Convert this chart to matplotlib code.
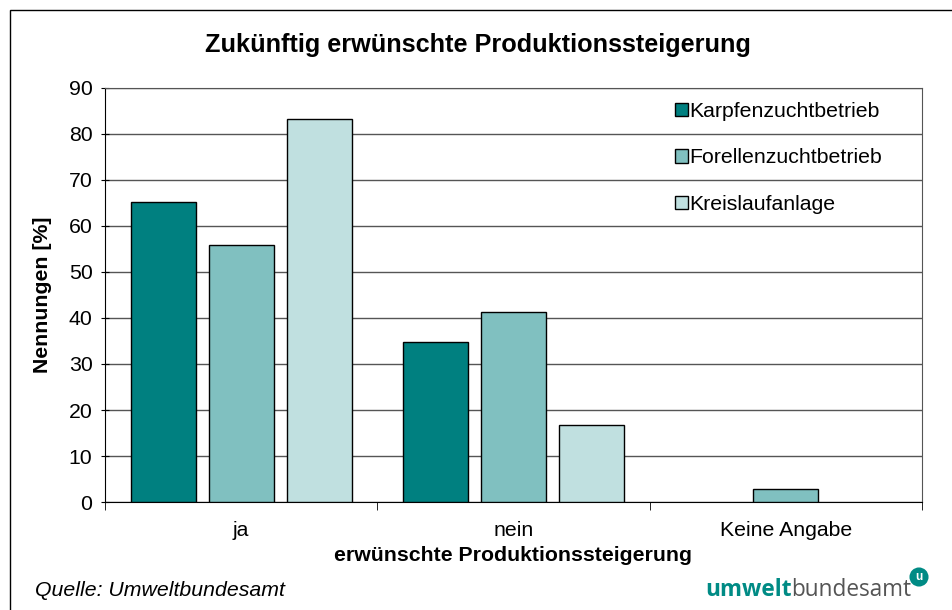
import matplotlib.pyplot as plt
import matplotlib.patches as mpatches
import numpy as np

plt.rcParams['font.family'] = ['Liberation Sans', 'DejaVu Sans']

categories = ['ja', 'nein', 'Keine Angabe']
series = ['Karpfenzuchtbetrieb', 'Forellenzuchtbetrieb', 'Kreislaufanlage']
karpfen = [65.2, 34.8, 0.0]
forellen = [55.8, 41.2, 2.8]
kreislauf = [83.3, 16.7, 0.0]
colors = ['#008080', '#80C0C0', '#C0E0E0']

FS = 15.3

fig = plt.figure(figsize=(9.53, 6.10), dpi=100)
ax = fig.add_axes([105 / 953, 1 - 502 / 610, 817 / 953, 414 / 610])

x = np.arange(len(categories))
width = 0.239
step = 0.2865
for i, (vals, name) in enumerate(zip([karpfen, forellen, kreislauf], series)):
    bars = ax.bar(x + (i - 1) * step, vals, width, color=colors[i], edgecolor='black',
                  linewidth=1, label=name, zorder=3)
    for b, v in zip(bars, vals):
        if v == 0:
            b.set_linewidth(0)

ax.set_xlim(-0.5, 2.5)
ax.set_ylim(0, 90)
ax.set_yticks(np.arange(0, 91, 10))
ax.yaxis.grid(True, color='#555555', linewidth=1, zorder=0)
ax.set_axisbelow(True)

# category labels between separator ticks
ax.set_xticks(x)
ax.set_xticklabels(categories)
ax.tick_params(axis='x', length=0, labelsize=FS, pad=14)
ax.set_xticks([-0.5, 0.5, 1.5, 2.5], minor=True)
ax.tick_params(axis='x', which='minor', length=6, direction='out', color='black')
ax.tick_params(axis='y', length=6, direction='inout', labelsize=FS, pad=6)

for s in ['top', 'right']:
    ax.spines[s].set_color('#555555')
ax.spines['left'].set_color('black')
ax.spines['bottom'].set_color('black')

ax.set_ylabel('Nennungen [%]', fontsize=FS, fontweight='bold', labelpad=12)
ax.set_xlabel('erwünschte Produktionssteigerung', fontsize=FS, fontweight='bold', labelpad=4)

leg = ax.legend(loc='upper left', bbox_to_anchor=(0.674, 1.013), frameon=False,
                fontsize=FS, handlelength=0.6, handleheight=0.6,
                handletextpad=0.1, labelspacing=1.3)

fig.text(478 / 953, 1 - 45 / 610, 'Zukünftig erwünschte Produktionssteigerung',
         ha='center', va='center', fontsize=18.2, fontweight='bold')

fig.text(35 / 953, 1 - 590 / 610, 'Quelle: Umweltbundesamt', ha='left',
         va='center', fontsize=FS, style='italic')

# logo
t1 = fig.text(705 / 953, 1 - 596 / 610, 'umwelt', ha='left', va='baseline',
              fontsize=16.3, fontweight='bold', color='#008b85', family='Open Sans')
fig.canvas.draw()
bb = t1.get_window_extent()
fig.text(bb.x1 / 953, 1 - 596 / 610, 'bundesamt', ha='left', va='baseline',
         fontsize=16.3, color='#555555', family='Open Sans')
fig.text(919 / 953, 1 - 577 / 610, 'u', ha='center', va='center', fontsize=8.5,
         fontweight='bold', color='white',
         bbox=dict(boxstyle='circle,pad=0.3', fc='#008b85', ec='none'))

# outer frame (left and top edges visible)
fig.patches.append(mpatches.Rectangle((10 / 953, -0.5), 2, 0.5 + 1 - 10 / 610,
                                      transform=fig.transFigure, fill=False,
                                      edgecolor='black', linewidth=1))

fig.savefig('out.png', dpi=100)
